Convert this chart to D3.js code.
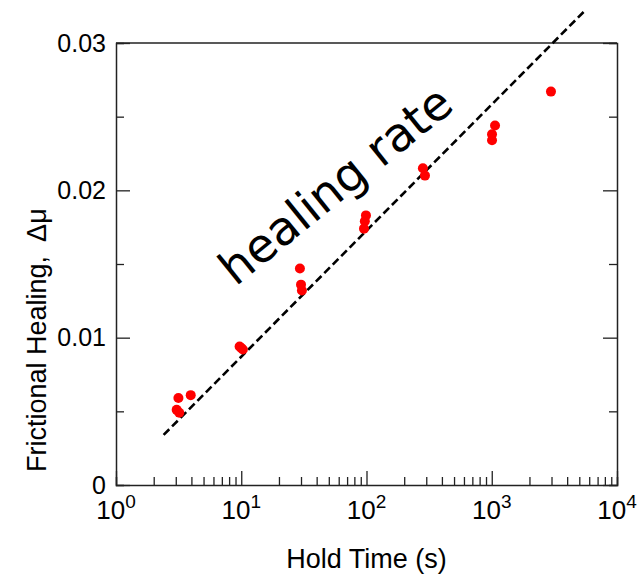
<!DOCTYPE html>
<html>
<head>
<meta charset="utf-8">
<script src="https://cdn.jsdelivr.net/npm/d3@7"></script>
<style>
  body { margin: 0; background: #fff; }
  svg { display: block; }
  text { font-family: "Liberation Sans", Arial, Helvetica, sans-serif; fill: #000; }
</style>
</head>
<body>
<svg id="chart"></svg>
<script>
// data
const holdTimes = [3.15, 3.05, 3.2, 3.95, 9.7, 10.0, 10.3, 29.4, 30.0, 30.5, 99, 97, 95.5, 282, 293, 1062, 1005, 1005, 2970];
const healing   = [0.0059, 0.0051, 0.0049, 0.0061, 0.0094, 0.0093, 0.0092, 0.0147, 0.0136, 0.0132, 0.0183, 0.0179, 0.0174, 0.0215, 0.0210, 0.0244, 0.0238, 0.0234, 0.0267];
const rateLineT  = [2.4, 5550];
const rateLineMu = [0.0034, 0.0322];
const xMajorTicks = [1, 10, 100, 1000, 10000];
const xExponents  = ['0', '1', '2', '3', '4'];
const yTicks = [0, 0.005, 0.01, 0.015, 0.02, 0.025, 0.03];
const yMajorLabels = {0: '0', 0.01: '0.01', 0.02: '0.02', 0.03: '0.03'};

const W = 642, H = 576;
const margin = {top: 43, right: 25, bottom: 91, left: 116};
const width = W - margin.left - margin.right;
const height = H - margin.top - margin.bottom;

const svg = d3.select('#chart')
    .attr('width', W)
    .attr('height', H)
  .append('g')
    .attr('transform', `translate(${margin.left},${margin.top})`);

const x = d3.scaleLog().domain([1, 10000]).range([0, width]);
const y = d3.scaleLinear().domain([0, 0.03]).range([height, 0]);

// all log ticks 1..9 per decade
const xTicks = [];
for (let d = 1; d < 10000; d *= 10) {
    for (let k = 1; k < 10; k++) xTicks.push(d * k);
}
xTicks.push(10000);
const isMajorX = v => xMajorTicks.includes(v);
const isMajorY = v => yMajorLabels[v] !== undefined;

// frame (top edge plain)
svg.append('line')
    .attr('x1', 0).attr('x2', width)
    .attr('y1', 0).attr('y2', 0)
    .attr('stroke', '#222').attr('stroke-width', 1.5);

// bottom axis, ticks inward
const xAxis = svg.append('g')
    .attr('transform', `translate(0,${height})`)
    .call(d3.axisBottom(x).tickValues(xTicks).tickSize(-8).tickFormat(''));
xAxis.selectAll('.tick line')
    .attr('y2', d => isMajorX(d) ? -14 : -8);

// x tick labels as 10^n
xMajorTicks.forEach((v, i) => {
    const t = svg.append('text')
        .attr('x', x(v))
        .attr('y', height + 34)
        .attr('text-anchor', 'middle')
        .style('font-size', '26px');
    t.append('tspan').text('10');
    t.append('tspan')
        .attr('dy', -11)
        .style('font-size', '19px')
        .text(xExponents[i]);
});

// left axis
const yAxis = svg.append('g')
    .call(d3.axisLeft(y).tickValues(yTicks).tickSize(-8).tickPadding(10)
        .tickFormat(d => isMajorY(d) ? yMajorLabels[d] : ''));
yAxis.selectAll('.tick line')
    .attr('x2', d => isMajorY(d) ? 14 : 8);
yAxis.selectAll('.tick text')
    .style('font-size', '25px')
    .style('font-family', '"Liberation Sans", Arial, sans-serif');

// right axis
const yAxisR = svg.append('g')
    .attr('transform', `translate(${width},0)`)
    .call(d3.axisRight(y).tickValues(yTicks).tickSize(-8).tickFormat(''));
yAxisR.selectAll('.tick line')
    .attr('x2', d => isMajorY(d) ? -14 : -8);

svg.selectAll('.domain').attr('stroke', '#222').attr('stroke-width', 1.5);
svg.selectAll('.tick line').attr('stroke', '#222').attr('stroke-width', 1.3);

// healing rate line (dashed, not clipped)
const rateData = rateLineT.map((t, i) => ({t: t, mu: rateLineMu[i]}));
svg.append('path')
    .datum(rateData)
    .attr('fill', 'none')
    .attr('stroke', '#000')
    .attr('stroke-width', 2.6)
    .attr('stroke-dasharray', '8,4')
    .attr('d', d3.line().x(d => x(d.t)).y(d => y(d.mu)));

// data points
const pts = holdTimes.map((t, i) => ({t: t, mu: healing[i]}));
svg.selectAll('circle.pt')
    .data(pts)
  .enter()
    .append('circle')
    .attr('class', 'pt')
    .attr('cx', d => x(d.t))
    .attr('cy', d => y(d.mu))
    .attr('r', 5)
    .attr('fill', '#ff0000');

// annotation
svg.append('text')
    .attr('transform', `translate(${x(60) + 7},${y(0.0195)}) rotate(-39)`)
    .attr('text-anchor', 'middle')
    .style('font-family', '"Comic Sans MS", "DejaVu Sans", sans-serif')
    .style('font-size', '47px')
    .text('healing rate');

// axis titles
svg.append('text')
    .attr('x', width / 2)
    .attr('y', height + 83)
    .attr('text-anchor', 'middle')
    .style('font-size', '27px')
    .text('Hold Time (s)');

const yTitle = svg.append('text')
    .attr('transform', `translate(${46 - margin.left},${472 - margin.top}) rotate(-90)`)
    .attr('text-anchor', 'start')
    .style('font-size', '27px');
yTitle.append('tspan').text('Frictional Healing,');
yTitle.append('tspan').attr('dx', 14).text('\u0394\u03bc');
</script>
</body>
</html>
